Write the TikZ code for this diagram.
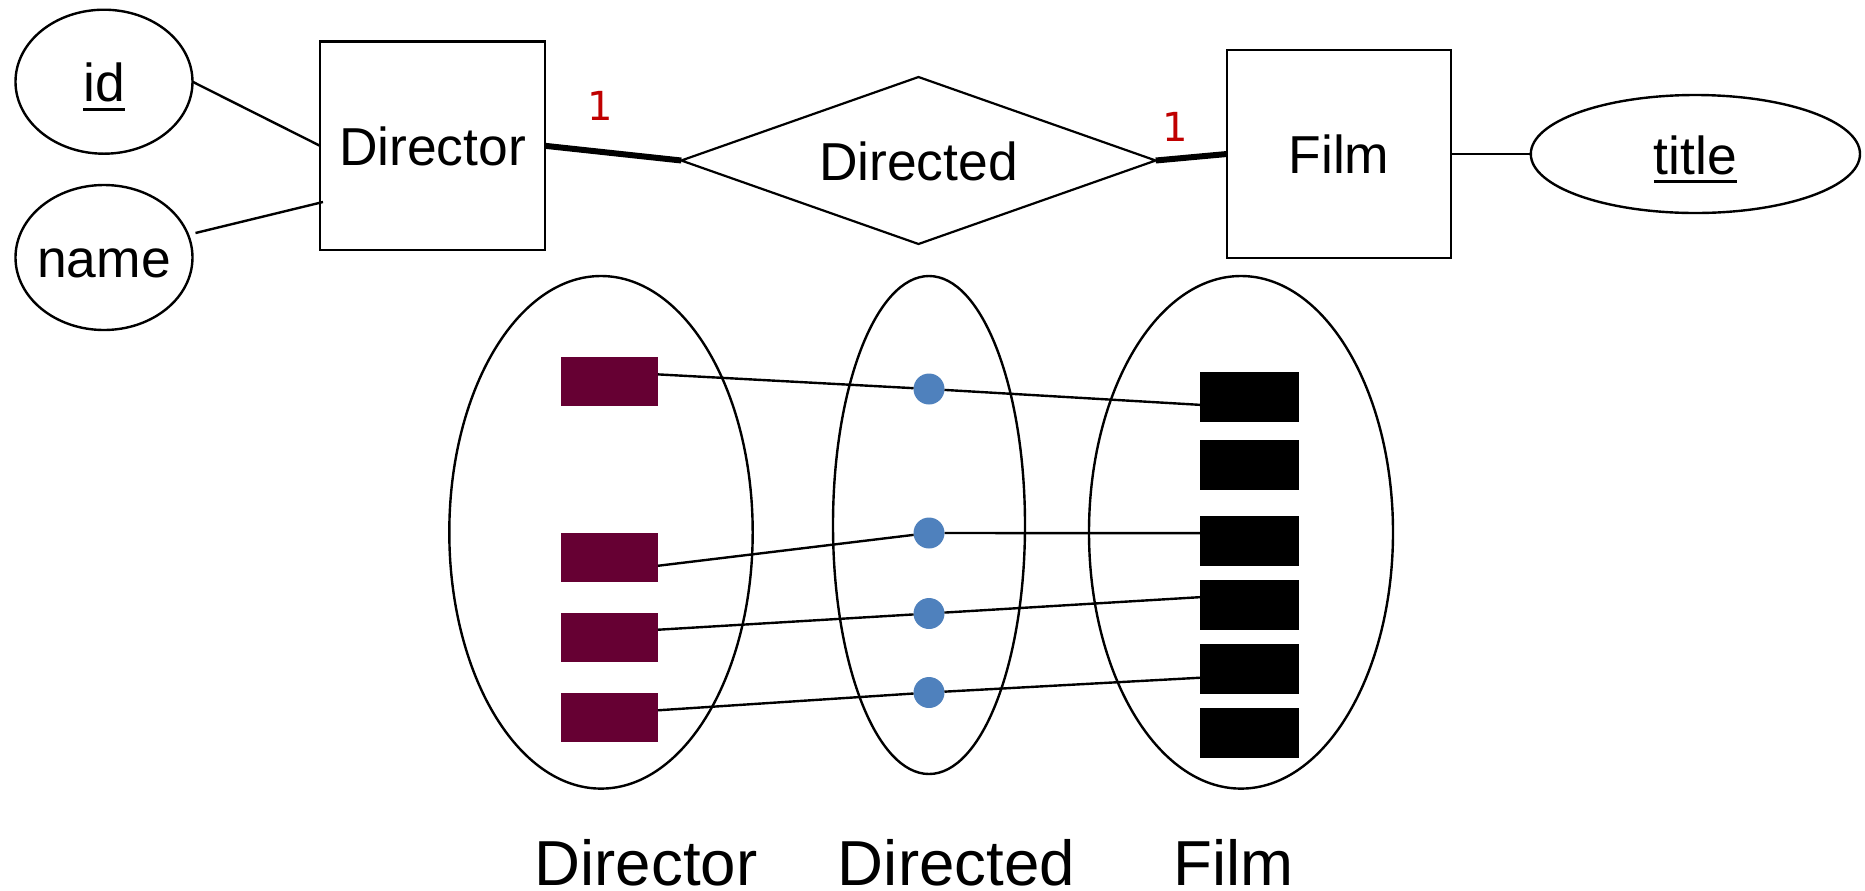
\documentclass[tikz,border=0pt]{standalone}
\usepackage{fontspec}
\setmainfont{Liberation Sans}
\newfontfamily\onefont{DejaVu Sans}
\usetikzlibrary{shapes.geometric}
\newcommand{\ulined}[1]{\setbox0\hbox{#1}\rlap{\rule[-4.5pt]{\wd0}{1.5pt}}\box0}
\definecolor{wine}{HTML}{660033}
\definecolor{dotblue}{HTML}{4F81BD}
\definecolor{onered}{HTML}{C00000}
\tikzset{
  every node/.style={inner sep=0pt,outer sep=0pt,font=\fontsize{26.7pt}{30pt}\selectfont},
  conn/.style={line width=1.2pt,black},
  heavy/.style={line width=3pt,black},
  attr/.style={draw,ellipse,line width=1.2pt,text height=20.2pt,text depth=0pt},
  entity/.style={draw,rectangle,line width=1.2pt,text height=19.2pt,text depth=0pt},
  rel/.style={draw,diamond,line width=1.1pt,text height=20.2pt,text depth=0pt},
  setoval/.style={draw,ellipse,line width=1.2pt},
  dirbar/.style={fill=wine,rectangle,minimum width=48.5pt,minimum height=24.4pt},
  filmbar/.style={fill=black,rectangle,minimum width=49.5pt,minimum height=25pt},
  pair/.style={fill=dotblue,circle,minimum size=15.5pt},
  card/.style={text=onered,font=\onefont\fontsize{20pt}{24pt}\selectfont},
  setname/.style={anchor=base,font=\fontsize{31.8pt}{38pt}\selectfont}
}
\begin{document}
\begin{tikzpicture}[x=0.5pt,y=-0.5pt]
\useasboundingbox (0,0) rectangle (1865,890);
% ER part
\node[attr,minimum width=88.5pt,minimum height=72pt] (id) at (104,81.7) {\ulined{id}};
\node[attr,minimum width=88.5pt,minimum height=72.5pt] (name) at (104,257.5) {\makebox[0pt]{name}};
\node[entity,minimum width=112.5pt,minimum height=104.2pt] (dirbox) at (432.5,145.8) {Director};
\node[rel,minimum width=237.2pt,minimum height=83.5pt,aspect=2.84] (rel) at (918.5,160.5) {Directed};
\node[entity,minimum width=112.2pt,minimum height=104pt] (film) at (1339,154) {Film};
\node[attr,minimum width=164.6pt,minimum height=59pt] (title) at (1695.4,154) {\ulined{title}};
\node[card] (c1) at (600,106) {1};
\node[card] (c2) at (1175.6,127) {1};
\coordinate (namestart) at (195.5,233);
\coordinate (nameend) at (323,202);
\draw[conn] (id.east) -- (dirbox.west);
\draw[conn] (namestart) -- (nameend);
\draw[heavy] (dirbox.east) -- (rel.west);
\draw[heavy] (rel.east) -- (film.west);
\draw[conn] (film.east) -- (title.west);
% set ovals
\node[setoval,minimum width=151.7pt,minimum height=256.3pt] (sd) at (601,532.3) {};
\node[setoval,minimum width=96pt,minimum height=249pt] (sr) at (929,525) {};
\node[setoval,minimum width=152pt,minimum height=256.3pt] (sf) at (1241,532.3) {};
% director bars
\node[dirbar] (p1) at (609.5,381.2) {};
\node[dirbar] (p2) at (609.5,557.2) {};
\node[dirbar] (p3) at (609.5,637.4) {};
\node[dirbar] (p4) at (609.5,717.1) {};
% dots
\node[pair] (d1) at (929,389) {};
\node[pair] (d2) at (929,533) {};
\node[pair] (d3) at (929,613.5) {};
\node[pair] (d4) at (929,692.5) {};
% film bars
\node[filmbar] (f1) at (1249.5,397) {};
\node[filmbar] (f2) at (1249.5,464.5) {};
\node[filmbar] (f3) at (1249.5,541) {};
\node[filmbar] (f4) at (1249.5,605) {};
\node[filmbar] (f5) at (1249.5,669) {};
\node[filmbar] (f6) at (1249.5,733) {};
% mapping lines
\draw[conn] (p1.8.8) -- (d1);
\draw[conn] (d1) -- (f1.189.2);
\draw[conn] (p2.350.6) -- (d2);
\draw[conn] (d2) -- (f3.171);
\draw[conn] (p3.9) -- (d3);
\draw[conn] (d3) -- (f4.171);
\draw[conn] (p4.8.8) -- (d4);
\draw[conn] (d4) -- (f5.190);
% set names
\node[setname] (n1) at (646,885) {Director};
\node[setname] (n2) at (956.4,885) {Directed};
\node[setname] (n3) at (1233.6,885) {Film};
\end{tikzpicture}
\end{document}
